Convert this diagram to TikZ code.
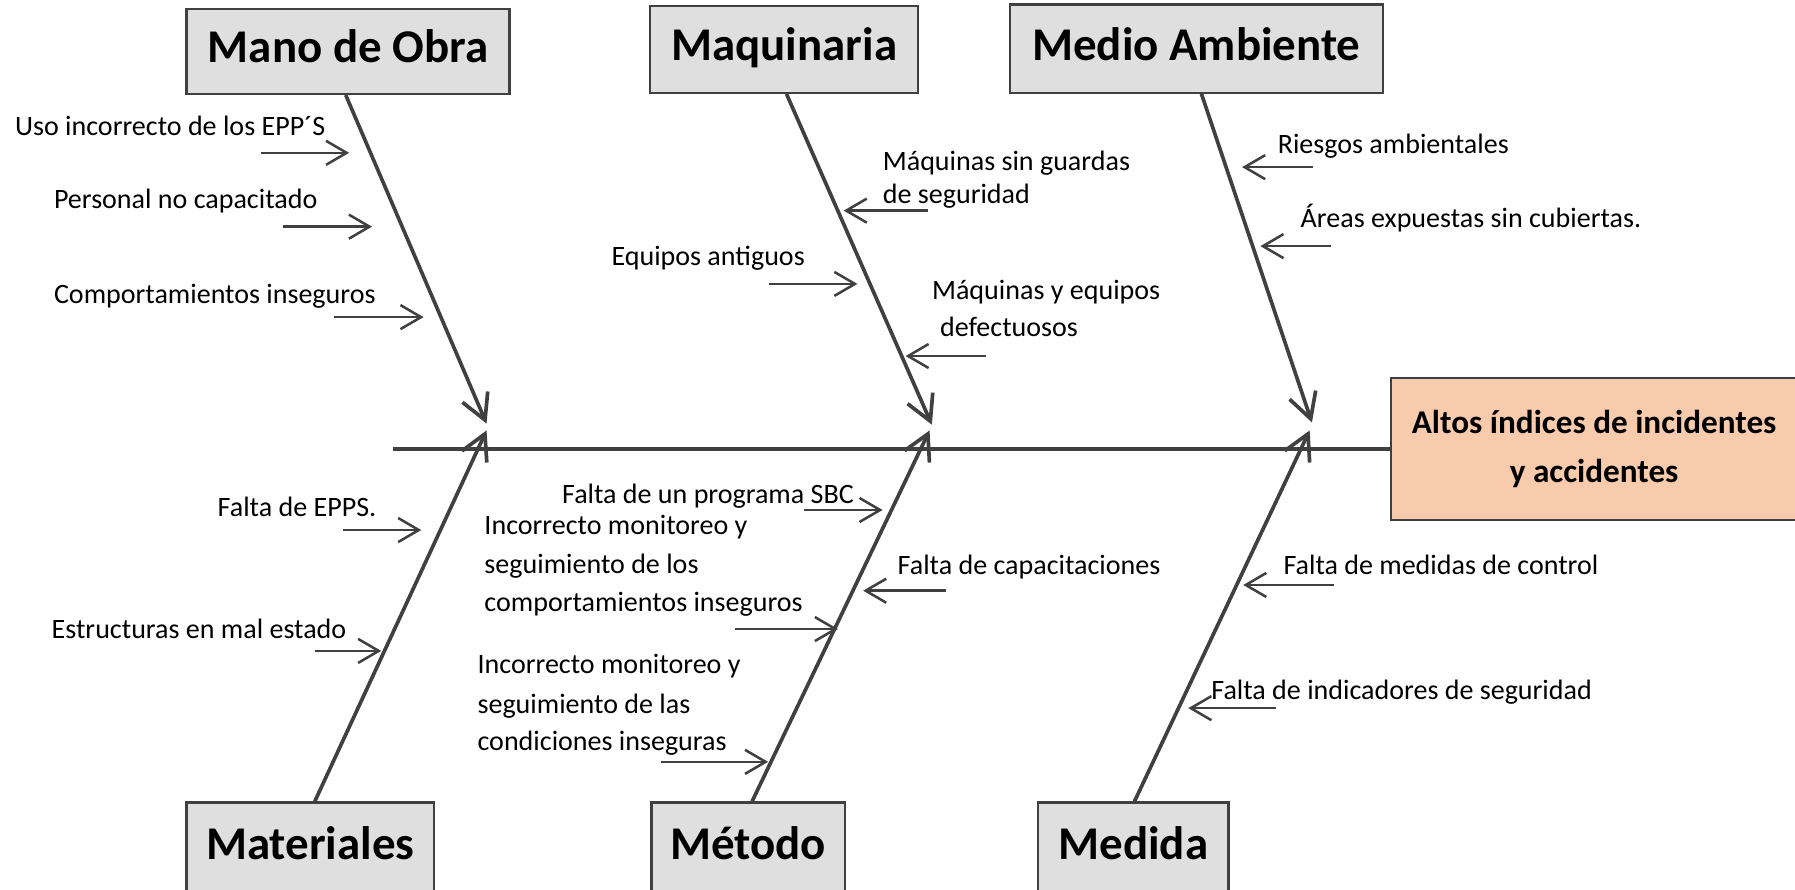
\documentclass[tikz,border=0pt]{standalone}
\usepackage{fontspec}
\setmainfont{Carlito}
\usetikzlibrary{arrows.meta}
\definecolor{linec}{HTML}{404040}
\definecolor{boxfill}{HTML}{DFDFDF}
\definecolor{effectfill}{HTML}{F8CBAD}
\begin{document}
\begin{tikzpicture}[x=1bp,y=-1bp,
  catbox/.style={draw=linec, line width=2bp, fill=boxfill, inner sep=0pt,
    font=\fontsize{41bp}{48bp}\selectfont\bfseries, text height=28bp, text depth=8bp},
  effect/.style={draw=linec, line width=2bp, fill=effectfill, inner sep=0pt,
    minimum width=355bp, minimum height=124bp, align=center,
    font=\fontsize{29bp}{43bp}\selectfont\bfseries},
  spine/.style={draw=linec, line width=3.6bp},
  bone/.style={draw=linec, line width=3.2bp, -{Straight Barb[length=22bp,width=24bp]}},
  sarrow/.style={draw=linec, line width=2.2bp, -{Straight Barb[length=18bp,width=21bp]}},
  lbl/.style={inner sep=0pt, anchor=base west, font=\fontsize{24.5bp}{30bp}\selectfont},
  lble/.style={lbl, anchor=base east}
]
\fill[white] (0,0) rectangle (1568,777);
\useasboundingbox (0,0) rectangle (1568,777);

% effect and spine
\coordinate (sp) at (343,392);
\node[effect] (eff) at (1392.5,392) {Altos índices de incidentes\\y accidentes};
\draw[spine] (sp) -- (eff.west);

% category boxes
\node[catbox, minimum width=282bp, minimum height=74bp] (mo) at (304,45) {Mano de Obra};
\node[catbox, minimum width=234bp, minimum height=76bp] (mq) at (685,43) {Maquinaria};
\node[catbox, minimum width=326bp, minimum height=77bp] (ma) at (1045,42.5) {Medio Ambiente};
\node[catbox, minimum width=216bp, minimum height=80bp] (mt) at (271,741) {Materiales};
\node[catbox, minimum width=169bp, minimum height=80bp] (me) at (653.5,741) {Método};
\node[catbox, minimum width=166bp, minimum height=80bp] (md) at (990,741) {Medida};

% bone tips on the spine
\coordinate (tmo) at (425,370);
\coordinate (tmq) at (814,371);
\coordinate (tma) at (1146,369);
\coordinate (tmt) at (425,376);
\coordinate (tme) at (812,376);
\coordinate (tmd) at (1144,376);

\draw[bone] ([xshift=-2bp]mo.south) -- (tmo);
\draw[bone] ([xshift=2bp]mq.south) -- (tmq);
\draw[bone] ([xshift=4.5bp]ma.south) -- (tma);
\draw[bone] ([xshift=4bp]mt.north) -- (tmt);
\draw[bone] ([xshift=3.5bp]me.north) -- (tme);
\draw[bone] ([xshift=1bp]md.north) -- (tmd);

% Mano de Obra causes
\node[lbl] (l1) at (13,118) {Uso incorrecto de los EPP´S};
\node[lbl] (l2) at (47,182) {Personal no capacitado};
\node[lbl] (l3) at (47,265) {Comportamientos inseguros};
\coordinate (a1s) at (228,133.5); \coordinate (a1e) at (305,133.5);
\coordinate (a2s) at (247,198);   \coordinate (a2e) at (325,198);
\coordinate (a3s) at (292,277);   \coordinate (a3e) at (370,277);
\draw[sarrow] (a1s) -- (a1e);
\draw[sarrow] (a2s) -- (a2e);
\draw[sarrow] (a3s) -- (a3e);

% Maquinaria causes
\node[lbl] (l4a) at (771,149) {Máquinas sin guardas};
\node[lbl] (l4b) at (771,178) {de seguridad};
\node[lbl] (l5) at (534,232) {Equipos antiguos};
\node[lbl] (l6a) at (814,262) {Máquinas y equipos};
\node[lbl] (l6b) at (821,294) {defectuosos};
\coordinate (a4s) at (811,184); \coordinate (a4e) at (737,184);
\coordinate (a5s) at (672,248); \coordinate (a5e) at (749,248);
\coordinate (a6s) at (861,311); \coordinate (a6e) at (791,311);
\draw[sarrow] (a4s) -- (a4e);
\draw[sarrow] (a5s) -- (a5e);
\draw[sarrow] (a6s) -- (a6e);

% Medio Ambiente causes
\node[lbl] (l7) at (1116,134) {Riesgos ambientales};
\node[lbl] (l8) at (1136,199) {Áreas expuestas sin cubiertas.};
\coordinate (a7s) at (1147,146); \coordinate (a7e) at (1085,146);
\coordinate (a8s) at (1163,215); \coordinate (a8e) at (1101,215);
\draw[sarrow] (a7s) -- (a7e);
\draw[sarrow] (a8s) -- (a8e);

% Materiales causes
\node[lbl] (l9) at (190,451) {Falta de EPPS.};
\node[lbl] (l10) at (45,558) {Estructuras en mal estado};
\coordinate (a9s) at (300,463);    \coordinate (a9e) at (368,463);
\coordinate (a10s) at (275,568.6); \coordinate (a10e) at (333,568.6);
\draw[sarrow] (a9s) -- (a9e);
\draw[sarrow] (a10s) -- (a10e);

% Método causes
\node[lble] (l11) at (746,440) {Falta de un programa SBC};
\node[lbl] (l12a) at (423,467) {Incorrecto monitoreo y};
\node[lbl] (l12b) at (423,501) {seguimiento de los};
\node[lbl] (l12c) at (423,534.5) {comportamientos inseguros};
\node[lbl] (l13a) at (417,588.5) {Incorrecto monitoreo y};
\node[lbl] (l13b) at (417,623) {seguimiento de las};
\node[lbl] (l13c) at (417,656) {condiciones inseguras};
\node[lbl] (l14) at (784,502) {Falta de capacitaciones};
\coordinate (a11s) at (702,445.5); \coordinate (a11e) at (771,445.5);
\coordinate (a12s) at (642,549.5); \coordinate (a12e) at (732,549.5);
\coordinate (a13s) at (577,665.5); \coordinate (a13e) at (671,665.5);
\coordinate (a14s) at (826,516);   \coordinate (a14e) at (754,516);
\draw[sarrow] (a11s) -- (a11e);
\draw[sarrow] (a12s) -- (a12e);
\draw[sarrow] (a13s) -- (a13e);
\draw[sarrow] (a14s) -- (a14e);

% Medida causes
\node[lbl] (l15) at (1121,502) {Falta de medidas de control};
\node[lbl] (l16) at (1058,610.6) {Falta de indicadores de seguridad};
\coordinate (a15s) at (1165,511);   \coordinate (a15e) at (1086,511);
\coordinate (a16s) at (1115,618.6); \coordinate (a16e) at (1038,618.6);
\draw[sarrow] (a15s) -- (a15e);
\draw[sarrow] (a16s) -- (a16e);
\end{tikzpicture}
\end{document}
